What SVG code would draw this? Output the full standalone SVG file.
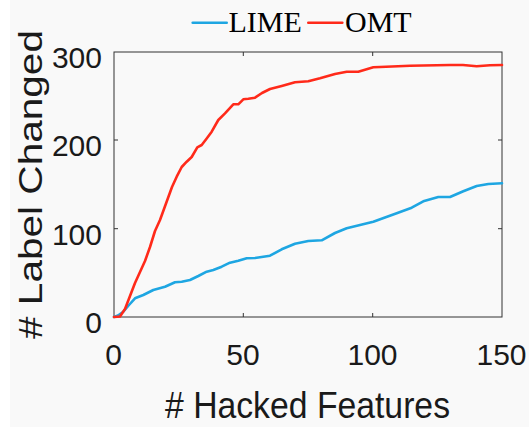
<svg xmlns="http://www.w3.org/2000/svg" width="529" height="427" viewBox="0 0 529 427">
<style>
.tick{font-family:"Liberation Sans",Arial,sans-serif;font-size:30px;fill:#1a1a1a}
.title{font-family:"Liberation Sans",Arial,sans-serif;fill:#1a1a1a}
.leg{font-family:"Liberation Serif","Times New Roman",serif;font-size:30px;fill:#000}
.axis{fill:none;stroke:#333;stroke-width:1}
.data{fill:none;stroke-width:2.6;stroke-linejoin:round;stroke-linecap:round}
.lime{stroke:#1ea6e2}
.omt{stroke:#ff2a1a}
</style>
<rect x="0" y="0" width="529" height="427" fill="#ffffff"/>
<rect x="10" y="0" width="519" height="427" fill="#f9f9f9"/>
<g id="axes">
<rect class="axis" x="114" y="52" width="388" height="265"/>
<path class="axis" d="M243.3 317v-4M372.7 317v-4M243.3 52v4M372.7 52v4M114 140v0M114 228.7h4M114 140h4M502 228.7h-4M502 140h-4"/>
</g>
<g id="ticklabels">
<text class="tick" x="102" y="333" text-anchor="end">0</text>
<text class="tick" x="102" y="244.5" text-anchor="end">100</text>
<text class="tick" x="102" y="156" text-anchor="end">200</text>
<text class="tick" x="102" y="67.5" text-anchor="end">300</text>
<text class="tick" x="113.5" y="365" text-anchor="middle">0</text>
<text class="tick" x="243" y="365" text-anchor="middle">50</text>
<text class="tick" x="372.5" y="365" text-anchor="middle">100</text>
<text class="tick" x="501.5" y="365" text-anchor="middle">150</text>
</g>
<g id="axis-titles">
<text class="title" x="307.5" y="418" font-size="37" text-anchor="middle" textLength="285" lengthAdjust="spacingAndGlyphs"># Hacked Features</text>
<text class="title" transform="translate(41.7,184.5) rotate(-90)" x="0" y="0" font-size="33" text-anchor="middle" textLength="309" lengthAdjust="spacingAndGlyphs"># Label Changed</text>
</g>
<g id="connectors">
<polyline id="lime-curve" class="data lime" points="114,317 118,315.5 123.3,311.7 129,305 135,298.3 143.3,295 153.3,290 165,286.7 175,282.3 181.7,281.7 190,280 198.3,276 206.7,271.7 213.3,270 221.7,266.7 230,262.7 238.3,260.7 246.7,258.3 255,258 270,255.7 281.7,249.3 295,243.7 308.3,241 321.7,240.3 335,233 346.7,228.3 360,225 373.3,221.7 385,217.5 396.7,213.3 411.7,207.7 423.3,201.3 438.3,197 450,197 463.3,191.3 476.7,186 488.3,184 502,183.3"/>
<polyline id="omt-curve" class="data omt" points="114,317 120,316.5 125,309 130,296 135,283 140,272 145,261 150,247 155,231 160,220 164,209 168,198 172,187 176.7,176.7 181.7,167 186.7,161.7 191.7,157 197.3,147.3 201.7,145 206.7,138.5 211.7,131.7 218.3,120 225,113.3 233.3,104.3 238.3,104.3 243.3,99.3 248.3,98.7 255,97.7 262,93 270,89 281.7,86 295,82.3 308.3,81.3 320,78.3 335,74 346.7,71.7 358.3,71.7 373.3,67.3 380,67 410,65.7 450,65 463,65 476.7,66.3 490,65.3 502,65"/>
</g>
<g id="legend">
<line x1="192.7" y1="22.7" x2="226.7" y2="22.7" class="data lime" stroke-linecap="butt" stroke-width="2.4"/>
<text class="leg" x="228.5" y="31.7">LIME</text>
<line x1="308.3" y1="22.7" x2="342.3" y2="22.7" class="data omt" stroke-linecap="butt" stroke-width="2.4"/>
<text class="leg" x="345" y="31.7">OMT</text>
</g>
</svg>
